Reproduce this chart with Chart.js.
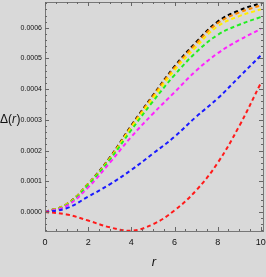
<!DOCTYPE html>
<html>
<head>
<meta charset="utf-8">
<script src="https://cdn.jsdelivr.net/npm/chart.js@4/dist/chart.umd.min.js"></script>
<style>
  html, body { margin: 0; padding: 0; background: #d9d9d9; }
  #wrap { width: 266px; height: 277px; }
</style>
</head>
<body>
<div id="wrap"><canvas id="deltaChart"></canvas></div>
<script>
// r values and curves
const rValues = [0, 1, 2, 3, 4, 5, 6, 7, 8, 9, 10];
const redCurve = [0, -0.000008, -0.000028, -0.00005, -0.000061, -0.00004, 0.000005, 0.00007, 0.00016, 0.00028, 0.00042];
const blueCurve = [0, 0.000012, 0.00005, 0.00009, 0.000137, 0.00019, 0.000245, 0.00031, 0.00037, 0.00044, 0.00051];
const magentaCurve = [0, 0.00002, 0.00008, 0.00016, 0.000245, 0.00032, 0.00039, 0.00046, 0.000517, 0.00056, 0.000596];
const greenCurve = [0, 0.000022, 0.000088, 0.00017, 0.000267, 0.00036, 0.000446, 0.00052, 0.000577, 0.00061, 0.000635];
const yellowCurve = [0, 0.000024, 0.00009, 0.000173, 0.000275, 0.00037, 0.000462, 0.000538, 0.000605, 0.000638, 0.00066];
const orangeCurve = [0, 0.000025, 0.000091, 0.000175, 0.000279, 0.000377, 0.00047, 0.000548, 0.000615, 0.00065, 0.000673];
const blackCurve = [0, 0.000025, 0.000092, 0.000177, 0.000282, 0.00038, 0.000474, 0.000553, 0.00062, 0.000657, 0.00068];

const xTicks = [0, 2, 4, 6, 8, 10];
const yTicks = [0, 0.0001, 0.0002, 0.0003, 0.0004, 0.0005, 0.0006];

const series = [
  { data: redCurve, color: '#ff1a1a' },
  { data: blueCurve, color: '#1a1aff' },
  { data: magentaCurve, color: '#ff22ff' },
  { data: greenCurve, color: '#22ee22' },
  { data: yellowCurve, color: '#ffee00' },
  { data: orangeCurve, color: '#ff8c00' },
  { data: blackCurve, color: '#000000' },
];

const fontFamily = "'Liberation Sans Narrow', 'Liberation Sans', Arial, sans-serif";
const tickFont = { family: fontFamily, size: 9 };

// frame with inward ticks on all four sides, labels for Δ(r) and r
const framePlugin = {
  id: 'frame',
  afterDraw(chart) {
    const { ctx, chartArea: a, scales: { x, y } } = chart;
    ctx.save();
    ctx.strokeStyle = '#777';
    ctx.lineWidth = 1;
    ctx.strokeRect(a.left + 0.5, a.top + 0.5, a.right - a.left, a.bottom - a.top);

    ctx.strokeStyle = '#666';
    ctx.beginPath();
    for (let v = 0; v <= 10.1; v += 0.5) {
      const px = Math.round(x.getPixelForValue(v)) + 0.5;
      const len = Math.abs(v % 2) < 1e-9 ? 4 : 2;
      ctx.moveTo(px, a.bottom); ctx.lineTo(px, a.bottom - len);
      ctx.moveTo(px, a.top); ctx.lineTo(px, a.top + len);
    }
    for (let k = -3; k <= 34; k++) {
      const v = k * 0.00002;
      if (v < y.min || v > y.max) continue;
      const py = Math.round(y.getPixelForValue(v)) + 0.5;
      const len = k % 5 === 0 ? 4 : 2;
      ctx.moveTo(a.left, py); ctx.lineTo(a.left + len, py);
      ctx.moveTo(a.right, py); ctx.lineTo(a.right - len, py);
    }
    ctx.stroke();

    ctx.fillStyle = '#111';
    ctx.textBaseline = 'middle';
    ctx.textAlign = 'left';
    const midY = (a.top + a.bottom) / 2 + 3;
    ctx.font = '12px ' + fontFamily;
    ctx.fillText('Δ(', 0, midY);
    let w = ctx.measureText('Δ(').width;
    ctx.font = 'italic 12px ' + fontFamily;
    ctx.fillText('r', w, midY);
    w += ctx.measureText('r').width + 0.5;
    ctx.font = '12px ' + fontFamily;
    ctx.fillText(')', w, midY);

    ctx.font = 'italic 13px ' + fontFamily;
    ctx.textAlign = 'center';
    ctx.fillText('r', (a.left + a.right) / 2, 262);
    ctx.restore();
  }
};

new Chart(document.getElementById('deltaChart'), {
  type: 'line',
  data: {
    labels: rValues,
    datasets: series.map(s => ({
      data: s.data.map((v, i) => ({ x: rValues[i], y: v })),
      borderColor: s.color,
      borderWidth: 2,
      borderDash: [4, 3],
      pointRadius: 0,
      fill: false,
      tension: 0.4,
    })),
  },
  options: {
    responsive: true,
    maintainAspectRatio: false,
    animation: false,
    layout: { padding: { top: 2, right: 3, left: 0, bottom: 0 } },
    plugins: { legend: { display: false }, tooltip: { enabled: false } },
    scales: {
      x: {
        type: 'linear',
        min: 0,
        max: 10.1,
        grid: { display: false, drawTicks: false },
        border: { display: false },
        afterBuildTicks: s => { s.ticks = xTicks.map(v => ({ value: v })); },
        afterFit: s => { s.height = 46; s.paddingLeft = 0; s.paddingRight = 0; },
        ticks: { color: '#111', font: tickFont, padding: 6, maxRotation: 0 },
      },
      y: {
        type: 'linear',
        min: -0.000062,
        max: 0.000684,
        grid: { display: false, drawTicks: false },
        border: { display: false },
        afterBuildTicks: s => { s.ticks = yTicks.map(v => ({ value: v })); },
        afterFit: s => { s.width = 45; s.paddingTop = 0; s.paddingBottom = 0; },
        ticks: { color: '#111', font: { ...tickFont, size: 7 }, padding: 3, callback: v => v.toFixed(4) },
      },
    },
  },
  plugins: [framePlugin],
});
</script>
</body>
</html>
